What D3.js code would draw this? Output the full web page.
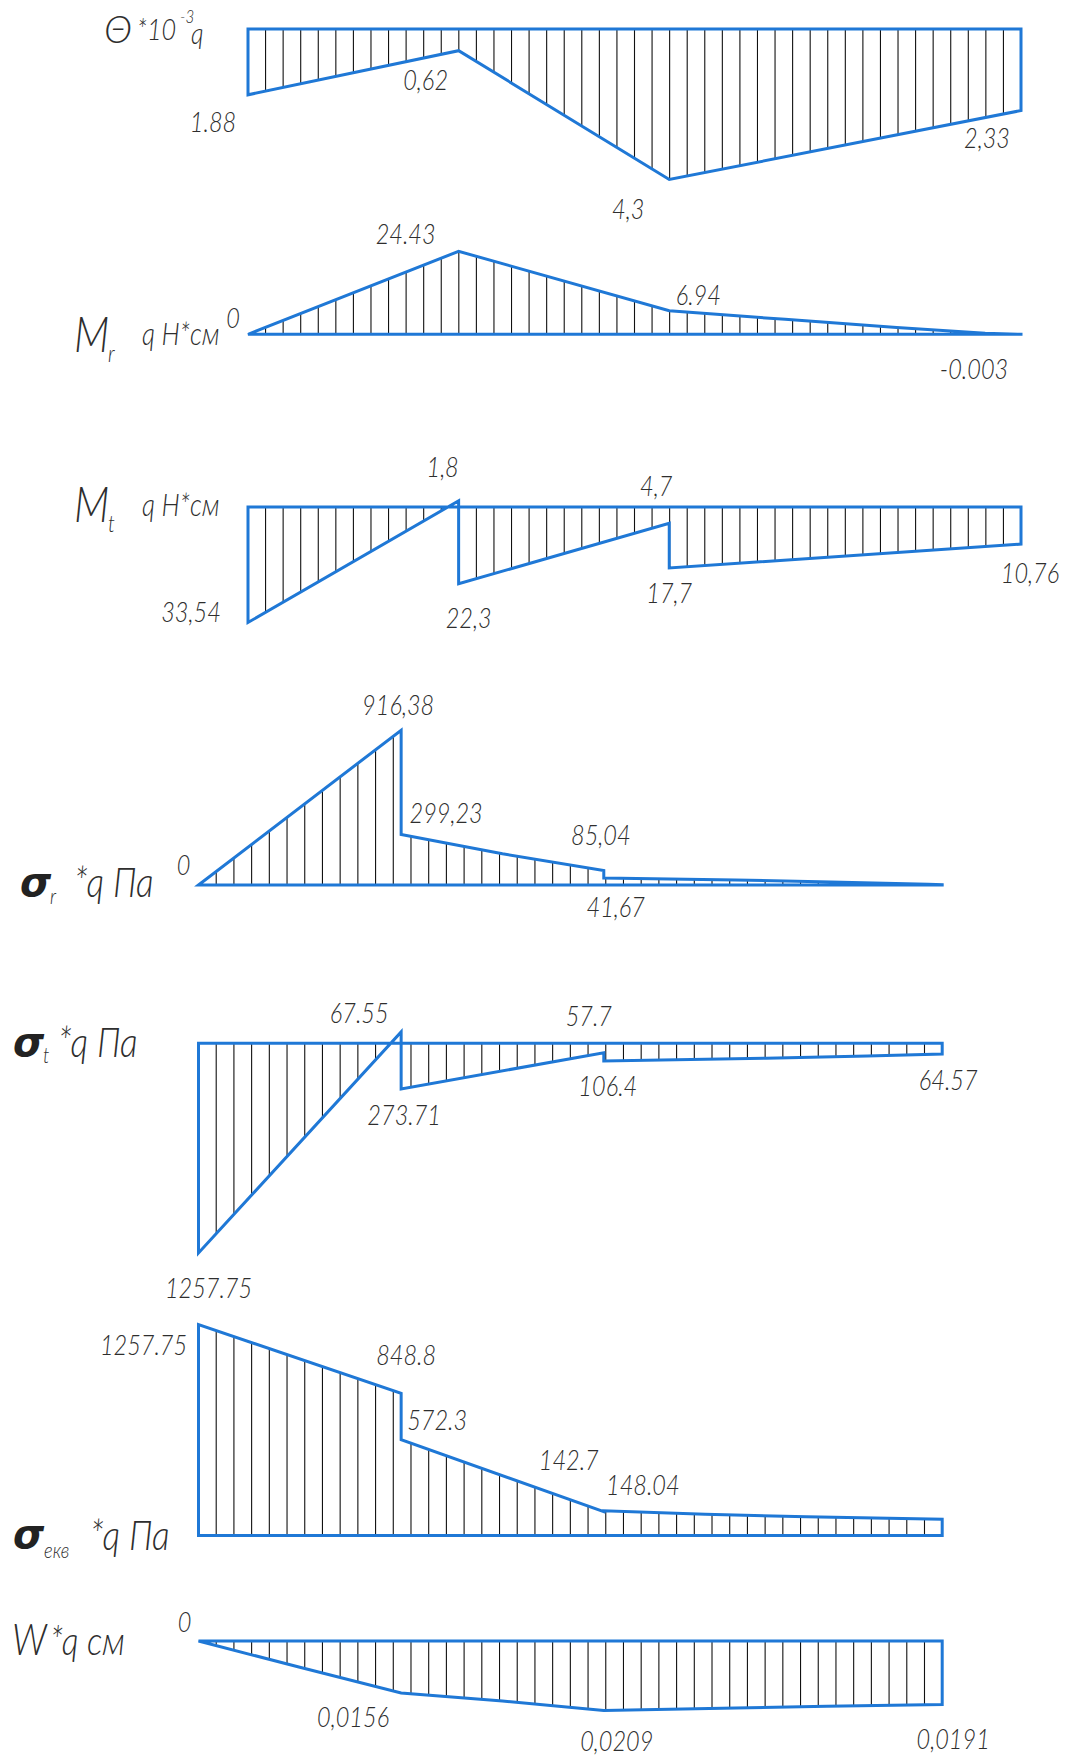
<!DOCTYPE html>
<html>
<head>
<meta charset="utf-8">
<script src="https://cdn.jsdelivr.net/npm/d3@7"></script>
<style>
  html, body { margin: 0; padding: 0; background: #fff; }
  svg { display: block; }
  .lbl { font-family: Lato, 'DejaVu Sans Condensed', sans-serif; font-style: italic; font-weight: 300; fill: #2e2e2e; }
  .sym { font-family: 'DejaVu Sans', 'Liberation Sans', sans-serif; font-style: italic; font-weight: bold; fill: #222; }
</style>
</head>
<body>
<script>
// Radial stations along the disc (section boundaries) and diagram values.
// Repeated stations mark a jump in the diagram.

// Θ ·10^-3 q  (plotted downward)
const thetaR = [0, 1, 2, 3.67];
const thetaV = [-1.88, -0.62, -4.3, -2.33];
const thetaText = ["1.88", "0,62", "4,3", "2,33"];

// M_r, q Н·см
const mrR = [0, 1, 2, 2.55, 3.08, 3.5, 3.67];
const mrV = [0, 24.43, 6.94, 4.4, 2.0, 0.3, -0.003];
const mrText = ["0", "24.43", "6.94", null, null, null, "-0.003"];

// M_t, q Н·см
const mtR = [0, 1, 1, 2, 2, 3.67];
const mtV = [-33.54, 1.8, -22.3, -4.7, -17.7, -10.76];
const mtText = ["33,54", "1,8", "22,3", "4,7", "17,7", "10,76"];

// σ_r ·q Па
const srR = [0, 1, 1, 1.5, 2, 2, 2.65, 3.12, 3.6, 3.67];
const srV = [0, 916.38, 299.23, 185, 85.04, 41.67, 30, 18, 4, 2];
const srText = ["0", "916,38", "299,23", null, "85,04", "41,67", null, null, null, null];

// σ_t ·q Па
const stR = [0, 1, 1, 2, 2, 2.8, 3.3, 3.67];
const stV = [-1257.75, 67.55, -273.71, -57.7, -106.4, -90, -76, -64.57];
const stText = ["1257.75", "67.55", "273.71", "57.7", "106.4", null, null, "64.57"];

// σ_екв ·q Па
const seR = [0, 1, 1, 2, 2, 2.5, 3, 3.67];
const seV = [1257.75, 848.8, 572.3, 142.7, 148.04, 128, 112, 98];
const seText = ["1257.75", "848.8", "572.3", "142.7", "148.04", null, null, null];

// W ·q см  (plotted downward)
const wR = [0, 0.5, 1, 1.5, 2, 2.65, 3.1, 3.67];
const wV = [0, -0.0079, -0.0156, -0.018, -0.0209, -0.0201, -0.0196, -0.0191];
const wText = ["0", null, "0,0156", null, "0,0209", null, null, "0,0191"];

const rMax = 3.67;

// Drawing layout: horizontal extent, zero line, pixels per unit, label offsets
const upper = { x0: 248, x1: 1021 };
const lower = { x0: 198.5, x1: 942.2 };
const panels = [
  { r: thetaR, v: thetaV, text: thetaText, ...upper, y0: 29, k: 35.0,
    off: [[-35, 26], [-33, 28], [-41, 29], [-34, 27]] },
  { r: mrR, v: mrV, text: mrText, ...upper, y0: 334.3, k: 3.397,
    off: [[-15, -17], [-53, -18], [29, -17], null, null, null, [-47, 34]] },
  { r: mtR, v: mtV, text: mtText, ...upper, y0: 507, k: 3.444,
    off: [[-57, -11], [-16, -35], [10, 33], [-13, -38], [0, 24], [9, 28]] },
  { r: srR, v: srV, text: srText, ...lower, y0: 885, k: 0.1689,
    off: [[-15, -21], [-3, -26], [45, -22], null, [-3, -36], [12, 28], null, null, null, null] },
  { r: stR, v: stV, text: stText, ...lower, y0: 1043.2, k: 0.1668,
    off: [[10, 34], [-42, -20], [3, 25], [-15, -38], [4, 24], null, null, [6, 25]] },
  { r: seR, v: seV, text: seText, ...lower, y0: 1535.6, k: 0.1677,
    off: [[-55, 19], [5, -39], [36, -20], [-35, -52], [39, -27], null, null, null] },
  { r: wR, v: wV, text: wText, ...lower, y0: 1641, k: 3330,
    off: [[-14, -20], null, [-48, 23], null, [13, 30], null, null, [11, 34]] }
];

const BLUE = "#1f78d6";
const HATCH_STEP = 17.5;
const NARROW = 0.84;   // horizontal compression of the lettering

const svg = d3.select("body").append("svg")
  .attr("width", 1069).attr("height", 1758);

function valueAt(rs, vs, r) {
  for (let j = 0; j < rs.length - 1; j++) {
    if (rs[j + 1] > rs[j] && r >= rs[j] && r <= rs[j + 1]) {
      const t = (r - rs[j]) / (rs[j + 1] - rs[j]);
      return vs[j] + t * (vs[j + 1] - vs[j]);
    }
  }
  return 0;
}

// narrow lettering: place at (x, y) and squeeze horizontally
function word(parent, str, x, y, size, opts = {}) {
  return parent.append("text")
    .attr("class", opts.c || "lbl")
    .attr("transform", `translate(${x},${y}) scale(${opts.sx || NARROW},1)`)
    .attr("text-anchor", opts.anchor || "start")
    .attr("dominant-baseline", opts.base || "auto")
    .attr("font-size", size)
    .text(str);
}

panels.forEach(p => {
  const x = d3.scaleLinear().domain([0, rMax]).range([p.x0, p.x1]);
  const y = d3.scaleLinear().domain([0, 1]).range([p.y0, p.y0 - p.k]);
  const g = svg.append("g");

  // hatching between zero line and diagram
  const n = Math.round((p.x1 - p.x0) / HATCH_STEP);
  const hs = d3.range(1, n).map(i => rMax * i / n);
  g.selectAll("line.h").data(hs).join("line")
    .attr("x1", d => x(d)).attr("x2", d => x(d))
    .attr("y1", y(0)).attr("y2", d => y(valueAt(p.r, p.v, d)))
    .attr("stroke", "#111").attr("stroke-width", 1.1);

  // diagram outline closed on the zero line
  const pts = [[0, 0]].concat(p.r.map((r, i) => [r, p.v[i]]), [[rMax, 0]]);
  const line = d3.line().x(d => x(d[0])).y(d => y(d[1]));
  g.append("path")
    .attr("d", line(pts) + "Z")
    .attr("fill", "none").attr("stroke", BLUE).attr("stroke-width", 3)
    .attr("stroke-linejoin", "miter");

  // value labels
  p.text.forEach((t, i) => {
    if (t === null) return;
    const o = p.off[i];
    word(g, t, x(p.r[i]) + o[0], y(p.v[i]) + o[1], 28,
      { anchor: "middle", base: "central" });
  });
});

// Diagram titles
const titles = svg.append("g");
word(titles, "Θ", 104, 43, 38, { sx: 1 });
word(titles, "*10", 137, 40, 30);
word(titles, "-3", 180, 23, 18);
word(titles, "q", 191, 44, 30);

word(titles, "M", 74, 352, 50);
word(titles, "r", 108, 362, 24);
word(titles, "q H*см", 142, 345, 31);

word(titles, "M", 74, 522, 50);
word(titles, "t", 108, 532, 24);
word(titles, "q H*см", 142, 516, 31);

word(titles, "σ", 20, 896, 40, { c: "sym", sx: 1 });
word(titles, "r", 50, 904, 22);
word(titles, "*q Па", 74, 897, 42);

word(titles, "σ", 13, 1056, 40, { c: "sym", sx: 1 });
word(titles, "t", 43, 1063, 22);
word(titles, "*q Па", 58, 1057, 42);

word(titles, "σ", 13, 1548, 40, { c: "sym", sx: 1 });
word(titles, "екв", 44, 1558, 22);
word(titles, "*q Па", 90, 1550, 42);

word(titles, "W", 12, 1655, 44);
word(titles, "*q см", 50, 1655, 40);
</script>
</body>
</html>
